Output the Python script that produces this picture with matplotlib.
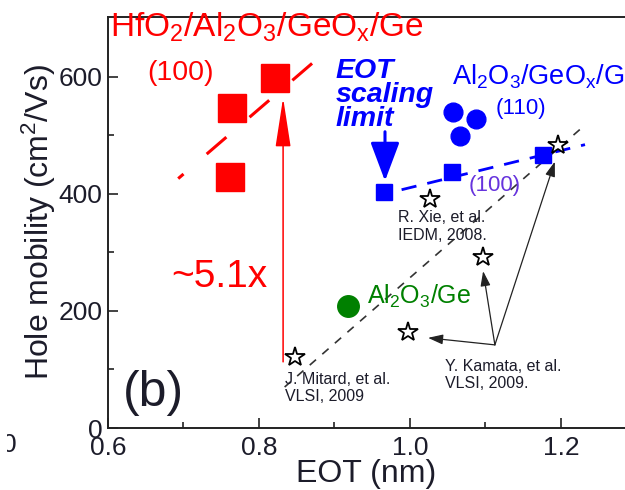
import matplotlib
matplotlib.use("Agg")
import matplotlib.pyplot as plt
from matplotlib.transforms import Bbox

plt.rcParams['font.family'] = ['Liberation Sans', 'DejaVu Sans']
plt.rcParams['mathtext.default'] = 'regular'

# HfO2/Al2O3/GeOx/Ge (100)
hf_eot = [0.764, 0.821, 0.762]
hf_mob = [547, 598, 429]
hf_fit_eot = [0.693, 0.8715]
hf_fit_mob = [426, 624]

# Al2O3/GeOx/Ge (100) and (110)
al100_eot = [0.966, 1.056, 1.176]
al100_mob = [403, 438, 467]
al100_fit_eot = [0.989, 1.232]
al100_fit_mob = [407, 484]
al110_eot = [1.057, 1.087, 1.067]
al110_mob = [540, 528, 498]

# Al2O3/Ge
alge_eot = [0.918]
alge_mob = [208]

# literature points
ref_eot = [0.848, 1.026, 1.097, 0.997, 1.196]
ref_mob = [121, 391, 292, 164, 483]
ref_fit_eot = [0.834, 1.228]
ref_fit_mob = [70, 513]

ink = '#1c1c2a'

fig = plt.figure(figsize=(6.25, 4.9), dpi=100)
ax = fig.add_axes([0.1728, 0.1265, 0.8272, 0.8388])
ax.set_xlim(0.6, 1.285)
ax.set_ylim(0, 702)
ax.spines['right'].set_visible(False)
for s in ['top', 'left', 'bottom']:
    ax.spines[s].set_linewidth(1.4)
    ax.spines[s].set_color('#222222')
ax.set_xticks([0.6, 0.8, 1.0, 1.2])
ax.set_xticklabels(['0.6', '0.8', '1.0', '1.2'])
ax.set_xticks([0.7, 0.9, 1.1], minor=True)
ax.set_yticks([0, 200, 400, 600])
ax.set_yticks([100, 300, 500], minor=True)
ax.tick_params(which='both', direction='in', labelsize=19, width=1.2,
               colors='#222222', labelcolor=ink)
ax.tick_params(which='major', length=7)
ax.tick_params(which='minor', length=4)
ax.tick_params(axis='x', pad=6)
ax.tick_params(axis='y', pad=4, right=False)
ax.set_xlabel('EOT (nm)', fontsize=23, labelpad=-1, color=ink)
ax.set_ylabel('Hole mobility (cm$^2$/Vs)', fontsize=23, labelpad=0, color=ink)

# fitted trend lines
ax.plot(hf_fit_eot, hf_fit_mob, color='red', lw=2.2, linestyle=(6.2, (8.5, 10)),
        solid_capstyle='butt')
ax.plot(al100_fit_eot, al100_fit_mob, color='blue', lw=2, linestyle=(0, (5.5, 4)))
ax.plot(ref_fit_eot, ref_fit_mob, color='#333333', lw=1.2, linestyle=(0, (5, 5)))

ax.plot(hf_eot, hf_mob, 's', color='red', ms=20)
ax.plot(al100_eot, al100_mob, 's', color='blue', ms=11)
ax.plot(al110_eot, al110_mob, 'o', color='blue', ms=13.5)
ax.plot(alge_eot, alge_mob, 'o', color='green', ms=15.5)
ax.plot(ref_eot, ref_mob, '*', mfc='white', mec='black', mew=1.3, ms=15)

# improvement arrow
ax.annotate('', xy=(0.832, 564), xytext=(0.832, 113),
            arrowprops=dict(arrowstyle='-|>,head_length=2.2,head_width=0.34',
                            color='red', lw=1.1, mutation_scale=14, shrinkA=0, shrinkB=0))
ax.text(0.748, 258, '~5.1x', color='red', fontsize=28, ha='center', va='center')

# scaling limit arrow
ax.annotate('', xy=(0.967, 422), xytext=(0.967, 506),
            arrowprops=dict(arrowstyle='-|>,head_length=2.4,head_width=0.9',
                            color='blue', lw=2.2, mutation_scale=10, shrinkA=0, shrinkB=0))
ax.text(0.901, 569, 'EOT\nscaling\nlimit', color='blue', fontsize=20.5, fontweight='bold',
        fontstyle='italic', ha='left', va='center', linespacing=0.9)

ax.text(0.6027, 669, 'HfO$_2$/Al$_2$O$_3$/GeO$_x$/Ge', color='red', fontsize=24,
        ha='left', va='baseline')
ax.text(0.652, 607, '(100)', color='red', fontsize=20.5, ha='left', va='center')
ax.text(1.0556, 586, 'Al$_2$O$_3$/GeO$_x$/Ge', color='blue', fontsize=19.5,
        ha='left', va='baseline')
ax.text(1.147, 545, '(110)', color='blue', fontsize=16, ha='center', va='center')
ax.text(1.113, 415, '(100)', color='#6633dd', fontsize=16, ha='center', va='center')
ax.text(0.943, 224, 'Al$_2$O$_3$/Ge', color='green', fontsize=18, ha='left', va='center')

ax.text(0.984, 344, 'R. Xie, et al.\nIEDM, 2008.', fontsize=11.5, ha='left', va='center',
        color=ink, linespacing=1.2)
ax.text(0.834, 68, 'J. Mitard, et al.\nVLSI, 2009', fontsize=11.5, ha='left', va='center',
        color=ink, linespacing=1.2)
ax.text(1.046, 91, 'Y. Kamata, et al.\nVLSI, 2009.', fontsize=11.5, ha='left', va='center',
        color=ink, linespacing=1.2)

# pointers from the Kamata label to its points
src = (1.1126, 142)
for tx, ty in [(1.024, 154), (1.097, 268), (1.192, 455)]:
    ax.annotate('', xy=(tx, ty), xytext=src,
                arrowprops=dict(arrowstyle='-|>,head_length=0.9,head_width=0.3',
                                color='#222222', lw=0.9, mutation_scale=10,
                                shrinkA=0, shrinkB=0))

ax.text(0.62, 60, '(b)', fontsize=36, ha='left', va='center', color=ink)

# edge of the neighbouring panel's tick label
edge = fig.text(9 / 625, 1 - 445 / 490, '0', fontsize=19, ha='center', va='center', color=ink)
edge.set_clip_box(Bbox([[7, 0], [625, 490]]))
edge.set_clip_on(True)

fig.savefig('out.png', dpi=100)
